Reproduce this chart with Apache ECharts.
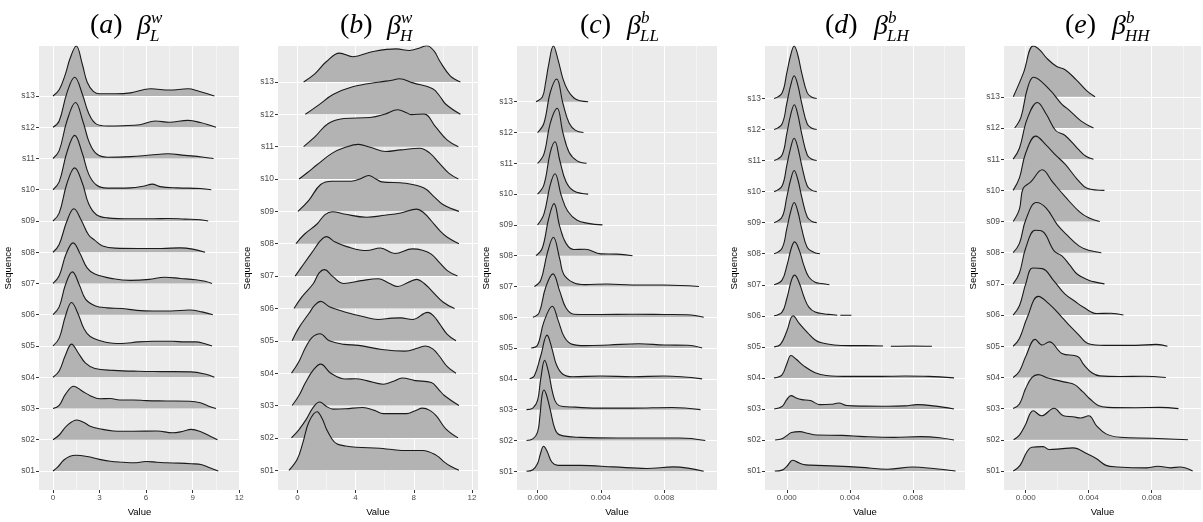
<!DOCTYPE html>
<html>
<head>
<meta charset="utf-8">
<script src="https://cdn.jsdelivr.net/npm/echarts@6/dist/echarts.min.js"></script>
<style>
  html, body { margin: 0; padding: 0; background: #ffffff; }
  #chart { width: 1203px; height: 522px; }
</style>
</head>
<body>
<div id="chart"></div>
<script>
// Sequence names on the vertical axis (index 0 = s01)
const sequences = ['s01','s02','s03','s04','s05','s06','s07','s08','s09','s10','s11','s12','s13'];

// Panel headings: letter, superscript, subscript
const titleLetters = ['a', 'b', 'c', 'd', 'e'];
const titleSup = ['w', 'w', 'b', 'b', 'b'];
const titleSub = ['L', 'H', 'LL', 'LH', 'HH'];

// Value-axis tick labels of each panel
const ticksA = [0, 3, 6, 9, 12];
const ticksB = [0, 4, 8, 12];
const ticksC = [0, 0.004, 0.008];
const ticksD = [0, 0.004, 0.008];
const ticksE = [0, 0.004, 0.008];

// Density ridges: for each sequence (s01..s13) a list of [value, density height]
// Heights are in units of the spacing between two sequences; null marks a gap.
const ridgesA = [
  [[0,0],[0.3,0.12],[0.7,0.35],[1.1,0.47],[1.5,0.5],[2.2,0.46],[3.0,0.37],[3.7,0.31],[4.5,0.28],[5.2,0.26],[6.0,0.3],[6.7,0.28],[7.3,0.26],[8.1,0.25],[8.9,0.23],[9.6,0.2],[10.1,0.1],[10.65,0]],
  [[0,0],[0.4,0.15],[0.9,0.45],[1.55,0.63],[2.0,0.55],[2.4,0.43],[3.0,0.35],[3.9,0.28],[5.2,0.27],[6.7,0.28],[7.7,0.22],[8.4,0.27],[8.9,0.33],[9.6,0.24],[10.1,0.12],[10.6,0]],
  [[0,0],[0.4,0.1],[0.8,0.45],[1.34,0.71],[1.9,0.55],[2.4,0.41],[3.0,0.31],[3.7,0.32],[4.3,0.27],[5.2,0.27],[6.0,0.25],[7.3,0.24],[8.8,0.23],[9.5,0.18],[10.0,0.08],[10.5,0]],
  [[0,0],[0.4,0.2],[0.8,0.7],[1.2,1.06],[1.6,0.8],[2.1,0.45],[2.7,0.28],[3.9,0.22],[5.5,0.19],[7.0,0.18],[8.9,0.17],[9.8,0.1],[10.4,0]],
  [[0,0],[0.4,0.25],[0.8,0.95],[1.2,1.39],[1.6,1.05],[2.0,0.55],[2.4,0.3],[3.4,0.12],[4.4,0.08],[5.5,0.13],[6.5,0.15],[7.7,0.15],[8.5,0.13],[9.2,0.13],[9.8,0.07],[10.25,0]],
  [[0,0],[0.4,0.25],[0.8,0.95],[1.25,1.37],[1.7,0.95],[2.1,0.5],[2.7,0.29],[3.5,0.22],[4.4,0.2],[5.4,0.14],[6.4,0.12],[7.6,0.12],[8.8,0.15],[9.6,0.09],[10.3,0]],
  [[0,0],[0.4,0.25],[0.85,0.95],[1.3,1.3],[1.75,0.95],[2.2,0.5],[2.7,0.3],[3.9,0.15],[5.0,0.1],[6.2,0.13],[7.2,0.2],[8.2,0.16],[9.2,0.12],[9.8,0.07],[10.25,0]],
  [[0,0],[0.4,0.25],[0.9,1.0],[1.35,1.39],[1.8,1.05],[2.3,0.55],[2.7,0.38],[3.2,0.2],[4.0,0.13],[5.5,0.12],[7.0,0.12],[8.2,0.14],[9.0,0.1],[9.8,0]],
  [[0,0],[0.4,0.25],[0.9,1.2],[1.4,1.7],[1.9,1.2],[2.3,0.55],[2.8,0.2],[3.5,0.1],[5.0,0.07],[6.5,0.07],[7.4,0.08],[8.5,0.06],[9.5,0.04],[10.0,0]],
  [[0,0],[0.4,0.25],[0.9,1.2],[1.4,1.74],[1.9,1.15],[2.3,0.5],[2.8,0.15],[3.5,0.05],[5.0,0.06],[5.9,0.12],[6.4,0.18],[6.9,0.1],[8.0,0.06],[9.5,0.04],[10.2,0]],
  [[0,0],[0.4,0.25],[0.9,1.2],[1.45,1.79],[1.95,1.15],[2.35,0.5],[2.8,0.15],[3.5,0.04],[5.0,0.06],[6.3,0.11],[7.4,0.15],[8.5,0.1],[9.6,0.05],[10.35,0]],
  [[0,0],[0.4,0.2],[0.9,1.1],[1.4,1.6],[1.9,1.05],[2.3,0.45],[2.8,0.1],[3.5,0.04],[4.5,0.05],[5.6,0.08],[6.6,0.2],[7.5,0.16],[8.7,0.22],[9.5,0.15],[10.5,0]],
  [[0,0],[0.4,0.2],[0.8,0.7],[1.1,1.2],[1.5,1.6],[1.9,1.0],[2.2,0.45],[2.6,0.15],[3.0,0.07],[4.0,0.07],[5.0,0.1],[6.3,0.23],[7.5,0.19],[8.7,0.23],[9.4,0.15],[10.4,0]]
];

const ridgesB = [
  [[-0.58,0],[0,0.35],[0.39,0.87],[0.8,1.5],[1.35,1.81],[1.7,1.6],[2.0,1.27],[2.4,0.95],[2.7,0.82],[3.3,0.75],[4.05,0.71],[5.65,0.68],[6.5,0.64],[7.5,0.61],[8.6,0.61],[9.55,0.46],[10.1,0.25],[10.5,0.13],[11.1,0]],
  [[-0.41,0],[0.1,0.25],[0.62,0.58],[1.1,0.95],[1.53,1.11],[2.0,0.97],[2.45,0.89],[3.3,0.9],[4.5,0.94],[5.3,0.85],[5.9,0.75],[7.5,0.75],[8.1,0.84],[8.6,0.92],[9.1,0.85],[9.55,0.68],[10.2,0.28],[11.04,0]],
  [[-0.36,0],[0.1,0.3],[0.56,0.71],[1.1,1.1],[1.6,1.28],[2.3,1.0],[3.3,0.82],[4.0,0.83],[4.76,0.77],[5.9,0.66],[6.6,0.75],[7.2,0.85],[8.1,0.77],[9.2,0.71],[9.7,0.5],[10.1,0.31],[11.1,0]],
  [[-0.4,0],[0.1,0.35],[0.56,0.79],[1.0,1.1],[1.56,1.22],[2.2,1.0],[3.2,0.89],[4.2,0.86],[5.8,0.73],[7.4,0.68],[8.3,0.78],[8.8,0.84],[9.3,0.75],[9.75,0.53],[10.3,0.2],[10.9,0]],
  [[-0.36,0],[0.1,0.4],[0.8,0.85],[1.2,1.1],[1.6,1.22],[2.2,1.05],[3.2,0.9],[4.5,0.75],[5.55,0.66],[6.5,0.7],[7.1,0.71],[7.9,0.66],[8.96,0.88],[9.4,0.75],[9.75,0.54],[10.3,0.2],[10.9,0]],
  [[-0.23,0],[0.3,0.35],[1.1,0.77],[1.5,1.1],[1.87,1.2],[2.4,1.0],[3.2,0.77],[4.4,0.86],[5.55,0.92],[6.3,0.78],[6.9,0.68],[7.6,0.8],[8.2,0.9],[8.7,0.78],[9.2,0.56],[10.0,0.2],[10.8,0]],
  [[-0.15,0],[0.4,0.35],[1.1,0.79],[1.6,1.1],[2.0,1.22],[2.6,1.05],[3.4,0.91],[4.76,0.79],[5.7,0.87],[6.7,0.7],[7.9,0.84],[8.6,0.8],[9.2,0.68],[9.8,0.4],[10.3,0.17],[11.0,0]],
  [[-0.1,0],[0.5,0.3],[1.35,0.61],[1.9,0.9],[2.4,0.99],[3.2,0.92],[4.76,0.82],[6.0,0.88],[7.1,0.95],[8.2,1.07],[8.7,0.95],[9.2,0.71],[9.8,0.4],[10.3,0.2],[11.1,0]],
  [[0.04,0],[0.8,0.35],[1.6,0.83],[2.4,0.93],[3.7,0.93],[4.3,1.0],[4.9,1.11],[5.4,1.0],[5.8,0.91],[7.4,0.87],[8.7,0.72],[9.4,0.45],[10.0,0.21],[11.1,0]],
  [[0.12,0],[0.7,0.2],[1.35,0.44],[2.4,0.8],[3.3,0.98],[4.2,1.07],[5.0,0.98],[6.1,0.85],[7.1,0.9],[8.4,0.95],[9.1,0.8],[9.75,0.49],[10.4,0.18],[11.06,0]],
  [[0.43,0],[1.2,0.3],[2.1,0.71],[3.2,0.87],[5.0,0.9],[6.0,1.0],[6.9,1.14],[7.5,1.05],[7.8,0.99],[8.7,1.01],[9.5,0.61],[10.3,0.2],[11.06,0]],
  [[0.55,0],[1.5,0.3],[2.45,0.61],[3.8,0.85],[5.65,1.0],[6.5,1.05],[7.0,1.1],[7.95,0.97],[9.3,0.79],[9.8,0.55],[10.2,0.31],[11.2,0]],
  [[0.43,0],[1.2,0.25],[2.0,0.63],[2.9,0.89],[3.8,0.78],[5.2,0.94],[6.8,1.02],[7.7,0.97],[8.4,1.05],[8.9,1.12],[9.4,0.95],[9.8,0.63],[10.5,0.19],[11.2,0]]
];

const ridgesC = [
  [[-0.0007,0],[-0.0003,0.05],[0,0.25],[0.0002,0.6],[0.00038,0.81],[0.0006,0.65],[0.0009,0.3],[0.0013,0.19],[0.0027,0.19],[0.0048,0.14],[0.0069,0.09],[0.0086,0.14],[0.0095,0.1],[0.0105,0]],
  [[-0.0007,0],[-0.0003,0.05],[0,0.27],[0.00015,0.8],[0.00028,1.45],[0.0004,1.64],[0.00055,1.5],[0.0008,1.0],[0.0011,0.37],[0.0014,0.18],[0.0027,0.1],[0.005,0.08],[0.0075,0.08],[0.009,0.08],[0.0106,0]],
  [[-0.0007,0],[-0.0003,0.05],[0,0.3],[0.0002,1.0],[0.00045,1.6],[0.0007,1.2],[0.00095,0.55],[0.0012,0.2],[0.0016,0.1],[0.0024,0.08],[0.0035,0.05],[0.006,0.05],[0.0085,0.07],[0.0103,0]],
  [[-0.0005,0],[-0.0002,0.1],[0.0002,0.75],[0.0006,1.42],[0.0009,1.0],[0.0012,0.45],[0.0016,0.15],[0.0022,0.07],[0.004,0.09],[0.006,0.07],[0.008,0.09],[0.0104,0]],
  [[-0.0004,0],[0,0.1],[0.0004,0.85],[0.00093,1.36],[0.0013,0.9],[0.0017,0.35],[0.0022,0.12],[0.003,0.08],[0.0045,0.1],[0.0064,0.14],[0.008,0.1],[0.0095,0.09],[0.0104,0]],
  [[-0.0003,0],[0.0001,0.15],[0.0005,0.95],[0.00097,1.41],[0.0014,0.85],[0.0018,0.3],[0.0023,0.1],[0.004,0.09],[0.006,0.1],[0.008,0.09],[0.0095,0.08],[0.0105,0]],
  [[-0.0002,0],[0.0002,0.2],[0.0006,1.05],[0.001,1.6],[0.0014,0.9],[0.00165,0.4],[0.00225,0.13],[0.003,0.06],[0.0044,0.08],[0.006,0.05],[0.008,0.05],[0.0102,0]],
  [[-0.0001,0],[0.0003,0.25],[0.0007,1.2],[0.00104,1.69],[0.0014,0.95],[0.0018,0.4],[0.0023,0.2],[0.003,0.21],[0.004,0.06],[0.005,0.05],[0.006,0]],
  [[0,0],[0.0004,0.35],[0.0008,1.3],[0.0011,1.66],[0.0015,0.95],[0.0019,0.45],[0.0025,0.15],[0.0032,0.05],[0.0041,0]],
  [[0,0],[0.0004,0.3],[0.0008,1.35],[0.0011,1.7],[0.0014,1.1],[0.0018,0.4],[0.0023,0.1],[0.0032,0]],
  [[0,0],[0.0004,0.3],[0.0008,1.3],[0.00124,1.79],[0.0016,1.0],[0.002,0.35],[0.0025,0.08],[0.0031,0]],
  [[0,0],[0.0004,0.3],[0.0008,1.3],[0.00121,1.74],[0.0016,0.95],[0.002,0.3],[0.0024,0.07],[0.0029,0]],
  [[-0.0001,0],[0.0003,0.15],[0.0005,0.6],[0.0007,1.2],[0.001,1.81],[0.0013,1.35],[0.0016,0.75],[0.0019,0.38],[0.0023,0.12],[0.0027,0.03],[0.0032,0]]
];

const ridgesD = [
  [[-0.00076,0],[-0.0003,0.03],[0,0.15],[0.00038,0.35],[0.0007,0.28],[0.00106,0.21],[0.0015,0.19],[0.0032,0.16],[0.0047,0.12],[0.0064,0.06],[0.008,0.13],[0.0093,0.08],[0.0107,0]],
  [[-0.00074,0],[-0.0003,0.04],[0,0.14],[0.0003,0.24],[0.00084,0.27],[0.0013,0.22],[0.0019,0.16],[0.0035,0.15],[0.0049,0.11],[0.0068,0.085],[0.0085,0.11],[0.0097,0.075],[0.0106,0]],
  [[-0.0008,0],[-0.0003,0.08],[0,0.3],[0.00027,0.43],[0.0006,0.35],[0.00095,0.3],[0.0015,0.27],[0.0021,0.14],[0.0028,0.15],[0.0033,0.19],[0.0038,0.11],[0.005,0.09],[0.0064,0.085],[0.0075,0.1],[0.0083,0.14],[0.0093,0.1],[0.0106,0]],
  [[-0.0008,0],[-0.0003,0.1],[0,0.45],[0.00027,0.72],[0.0006,0.6],[0.0011,0.38],[0.0018,0.17],[0.0025,0.08],[0.004,0.05],[0.006,0.05],[0.0075,0.06],[0.009,0.05],[0.0106,0]],
  [[-0.0008,0],[-0.0004,0.08],[0,0.5],[0.0004,1.0],[0.0008,0.75],[0.00133,0.45],[0.0018,0.22],[0.0022,0.13],[0.003,0.06],[0.004,0.04],[0.005,0.04],[0.0061,0.03],[0.0063,null],[0.0066,0.02],[0.008,0.03],[0.0092,0.02]],
  [[-0.0008,0],[-0.0003,0.12],[0,0.55],[0.0003,1.15],[0.0005,1.31],[0.0008,1.05],[0.0011,0.6],[0.0014,0.28],[0.0018,0.12],[0.0024,0.06],[0.0028,0.04],[0.0032,0.02],[0.0033,null],[0.0034,0.02],[0.0041,0.02]],
  [[-0.0008,0],[-0.0003,0.15],[0,0.6],[0.0003,1.2],[0.0005,1.38],[0.0008,1.1],[0.0011,0.6],[0.0014,0.25],[0.0018,0.08],[0.0022,0.04],[0.0027,0]],
  [[-0.0008,0],[-0.0003,0.18],[0,0.8],[0.00025,1.36],[0.00047,1.65],[0.0007,1.36],[0.00095,0.8],[0.0013,0.2],[0.0017,0.05],[0.0021,0]],
  [[-0.0008,0],[-0.0003,0.18],[0,0.82],[0.00025,1.39],[0.00047,1.68],[0.0007,1.39],[0.00095,0.82],[0.0013,0.18],[0.0016,0.04],[0.0019,0]],
  [[-0.0008,0],[-0.0003,0.18],[0,0.84],[0.00025,1.42],[0.00047,1.72],[0.0007,1.42],[0.00095,0.84],[0.0013,0.18],[0.0016,0.04],[0.0019,0]],
  [[-0.0008,0],[-0.0003,0.18],[0,0.86],[0.00025,1.48],[0.00048,1.8],[0.0007,1.48],[0.00095,0.86],[0.0013,0.18],[0.0016,0.04],[0.0019,0]],
  [[-0.0008,0],[-0.0003,0.18],[0,0.84],[0.00025,1.43],[0.00047,1.73],[0.0007,1.43],[0.00095,0.84],[0.0013,0.18],[0.0016,0.04],[0.0019,0]],
  [[-0.0008,0],[-0.0003,0.18],[0,0.82],[0.00025,1.4],[0.00047,1.69],[0.0007,1.4],[0.00095,0.82],[0.0013,0.18],[0.0016,0.04],[0.0019,0]]
];

const ridgesE = [
  [[-0.00079,0],[-0.00036,0.18],[0.00006,0.6],[0.00038,0.76],[0.0011,0.78],[0.0015,0.69],[0.0022,0.71],[0.003,0.74],[0.0039,0.55],[0.0045,0.39],[0.0051,0.18],[0.0058,0.13],[0.0077,0.1],[0.0084,0.15],[0.0092,0.1],[0.0098,0.13],[0.0106,0]],
  [[-0.00077,0],[-0.0004,0.15],[-0.00005,0.45],[0.00048,0.93],[0.001,0.77],[0.0018,1.01],[0.0024,0.77],[0.003,0.74],[0.0035,0.7],[0.004,0.77],[0.0045,0.45],[0.0051,0.19],[0.006,0.08],[0.008,0.05],[0.0103,0]],
  [[-0.0008,0],[-0.0004,0.15],[0,0.65],[0.0004,1.0],[0.0008,1.09],[0.0013,1.0],[0.0018,0.93],[0.0025,0.85],[0.0031,0.77],[0.0036,0.55],[0.0041,0.3],[0.0046,0.1],[0.0052,0.04],[0.007,0.03],[0.0085,0.04],[0.0097,0]],
  [[-0.0008,0],[-0.0004,0.2],[0,0.67],[0.0006,1.22],[0.00105,1.04],[0.0015,1.14],[0.0023,0.77],[0.0033,0.67],[0.0037,0.4],[0.0042,0.15],[0.0047,0.05],[0.006,0.03],[0.0075,0.04],[0.0089,0]],
  [[-0.0008,0],[-0.0004,0.25],[0.0001,0.93],[0.0008,1.6],[0.0015,1.35],[0.0023,0.93],[0.0028,0.65],[0.0033,0.4],[0.004,0.08],[0.005,0.03],[0.007,0.03],[0.0083,0.06],[0.009,0]],
  [[-0.0008,0],[-0.0004,0.3],[0,1.0],[0.00044,1.51],[0.00105,1.49],[0.0018,1.09],[0.0025,0.67],[0.0031,0.45],[0.0037,0.24],[0.0045,0.05],[0.0054,0.06],[0.0062,0]],
  [[-0.0008,0],[-0.0004,0.35],[0,1.15],[0.0006,1.72],[0.00105,1.69],[0.0018,1.06],[0.0023,0.9],[0.0028,0.6],[0.0033,0.3],[0.004,0.12],[0.0045,0.05],[0.005,0]],
  [[-0.0008,0],[-0.0004,0.3],[0,1.05],[0.00068,1.61],[0.0013,1.43],[0.002,0.9],[0.0026,0.58],[0.0034,0.21],[0.004,0.08],[0.0048,0]],
  [[-0.0008,0],[-0.0004,0.4],[-0.00017,1.06],[0.00032,1.27],[0.00105,1.66],[0.0017,1.27],[0.0025,0.8],[0.0034,0.32],[0.004,0.12],[0.0047,0]],
  [[-0.0008,0],[-0.0004,0.4],[0,1.2],[0.00064,1.74],[0.0013,1.45],[0.0019,1.13],[0.0025,0.84],[0.0033,0.34],[0.0039,0.07],[0.005,0]],
  [[-0.0008,0],[-0.0004,0.35],[0.0001,1.3],[0.00074,1.82],[0.0013,1.45],[0.0019,0.92],[0.0025,0.76],[0.0033,0.34],[0.0038,0.1],[0.0043,0]],
  [[-0.0007,0],[-0.0003,0.35],[0.0001,1.25],[0.0005,1.63],[0.0015,1.24],[0.0023,0.76],[0.0027,0.6],[0.0035,0.23],[0.0043,0]],
  [[-0.00079,0],[-0.00015,0.76],[0.00048,1.63],[0.0009,1.5],[0.00133,1.24],[0.00197,0.97],[0.0025,0.87],[0.0032,0.55],[0.0039,0.18],[0.0044,0]]
];

// Panel layout (pixels) and axis ranges
const panels = [
  { ridges: ridgesA, ticks: ticksA, step: 3,     left: 39,   width: 201, xMin: -0.9,     xMax: 12.05,   yMax: 14.6,  digits: 0, headX: 90,   betaX: 137 },
  { ridges: ridgesB, ticks: ticksB, step: 4,     left: 278,  width: 200, xMin: -1.33,    xMax: 12.41,   yMax: 14.11, digits: 0, headX: 340,  betaX: 387 },
  { ridges: ridgesC, ticks: ticksC, step: 0.004, left: 517,  width: 200, xMin: -0.0013,  xMax: 0.01134, yMax: 14.81, digits: 3, headX: 580,  betaX: 627 },
  { ridges: ridgesD, ticks: ticksD, step: 0.004, left: 765,  width: 200, xMin: -0.00138, xMax: 0.0113,  yMax: 14.69, digits: 3, headX: 825,  betaX: 874 },
  { ridges: ridgesE, ticks: ticksE, step: 0.004, left: 1004, width: 197, xMin: -0.00138, xMax: 0.01113, yMax: 14.63, digits: 3, headX: 1065, betaX: 1112 }
];

const PLOT_TOP = 46;
const PLOT_HEIGHT = 449;
const Y_MIN = 0.39;
const seqPositions = sequences.map((_, i) => i + 1);

const serifFont = '"Liberation Serif", "DejaVu Serif", serif';
const sansFont = '"Liberation Sans", Arial, sans-serif';

const grids = [], xAxes = [], yAxes = [], series = [], graphics = [];

// width of an italic beta so the scripts sit right after it
const measureCtx = document.createElement('canvas').getContext('2d');
measureCtx.font = 'italic 28px ' + serifFont;
const betaWidth = measureCtx.measureText('\u03B2').width;

panels.forEach((p, pi) => {
  grids.push({
    left: p.left, top: PLOT_TOP, width: p.width, height: PLOT_HEIGHT,
    show: true, backgroundColor: '#EBEBEB', borderWidth: 0
  });

  xAxes.push({
    gridIndex: pi, type: 'value', min: p.xMin, max: p.xMax,
    minInterval: p.step, maxInterval: p.step,
    axisLine: { show: false, onZero: false },
    axisTick: { show: true, length: 3, customValues: p.ticks, lineStyle: { color: '#333333', width: 1 } },
    axisLabel: {
      customValues: p.ticks, margin: 4, fontSize: 8, color: '#4D4D4D', fontFamily: sansFont,
      formatter: v => Number(v).toFixed(p.digits)
    },
    splitLine: { show: true, lineStyle: { color: '#FFFFFF', width: 1 } },
    minorTick: { show: false, splitNumber: 2 },
    minorSplitLine: { show: true, lineStyle: { color: '#FFFFFF', width: 0.5 } },
    name: 'Value', nameLocation: 'middle', nameGap: 17,
    nameTextStyle: { fontSize: 9.5, color: '#000000', fontFamily: sansFont }
  });

  yAxes.push({
    gridIndex: pi, type: 'value', min: Y_MIN, max: p.yMax,
    axisLine: { show: false, onZero: false },
    axisTick: { show: true, length: 3, customValues: seqPositions, lineStyle: { color: '#333333', width: 1 } },
    axisLabel: {
      customValues: seqPositions, margin: 4, fontSize: 8.5, color: '#4D4D4D', fontFamily: sansFont,
      formatter: v => sequences[Math.round(v) - 1]
    },
    splitLine: { show: true, lineStyle: { color: '#FFFFFF', width: 1 } },
    name: 'Sequence', nameLocation: 'middle', nameGap: 26, nameRotate: 90,
    nameTextStyle: { fontSize: 9.5, color: '#000000', fontFamily: sansFont }
  });

  // draw top row first so lower ridges overlap the ones above them
  for (let k = sequences.length - 1; k >= 0; k--) {
    const base = k + 1;
    series.push({
      name: sequences[k],
      type: 'line',
      xAxisIndex: pi, yAxisIndex: pi,
      data: p.ridges[k].map(([x, h]) => [x, h === null ? '-' : base + h]),
      symbol: 'none', smooth: 0.4, connectNulls: false,
      lineStyle: { color: '#1A1A1A', width: 1.1 },
      areaStyle: { color: '#B3B3B3', opacity: 1, origin: base },
      silent: true, animation: false
    });
  }

  // panel heading: (x)  beta with superscript and subscript
  graphics.push({
    type: 'text', x: p.headX, y: 26, silent: true,
    style: {
      text: '{p|(}{i|' + titleLetters[pi] + '}{p|)}',
      verticalAlign: 'middle', align: 'left',
      rich: {
        p: { fontSize: 28, fontFamily: serifFont, fill: '#000' },
        i: { fontSize: 28, fontFamily: serifFont, fontStyle: 'italic', fill: '#000' }
      }
    }
  });
  graphics.push({
    type: 'text', x: p.betaX, y: 27, silent: true,
    style: { text: '\u03B2', fontSize: 28, fontFamily: serifFont, fontStyle: 'italic', fill: '#000', verticalAlign: 'middle', align: 'left' }
  });
  graphics.push({
    type: 'text', x: p.betaX + betaWidth, y: 19, silent: true,
    style: { text: titleSup[pi], fontSize: 17, fontFamily: serifFont, fontStyle: 'italic', fill: '#000', verticalAlign: 'middle', align: 'left' }
  });
  graphics.push({
    type: 'text', x: p.betaX + betaWidth - 1, y: 37, silent: true,
    style: { text: titleSub[pi], fontSize: 17, fontFamily: serifFont, fontStyle: 'italic', fill: '#000', verticalAlign: 'middle', align: 'left' }
  });
});

const chart = echarts.init(document.getElementById('chart'), null, { renderer: 'canvas' });
chart.setOption({
  animation: false,
  backgroundColor: '#FFFFFF',
  grid: grids,
  xAxis: xAxes,
  yAxis: yAxes,
  series: series,
  graphic: graphics
});
</script>
</body>
</html>
